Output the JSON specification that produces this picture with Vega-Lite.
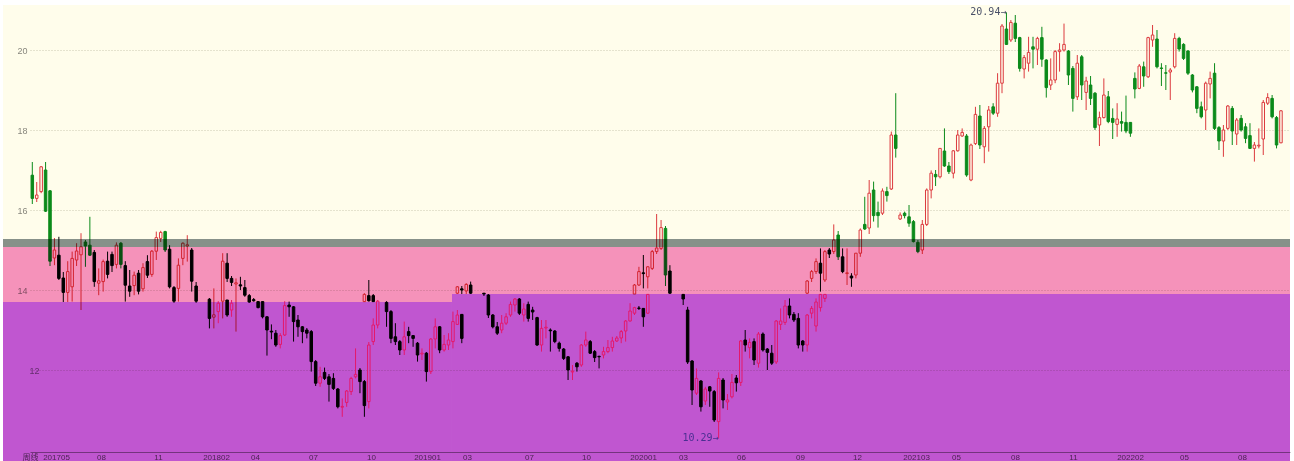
{
"$schema":"https://vega.github.io/schema/vega-lite/v6.json",
"width":1260,"height":456,
"autosize":{"type":"none"},
"padding":{"left":30,"top":5,"right":4,"bottom":0},
"background":"#ffffff",
"config":{"view":{"stroke":null},"scale":{"continuousPadding":0}},
"datasets":{
"bands":[
{"zone":"cream","w":-6.6175,"w2":284.04,"lo":15.275,"hi":21.125},
{"zone":"gray","w":-6.6175,"w2":284.04,"lo":15.075,"hi":15.275},
{"zone":"pink","w":-6.6175,"w2":284.04,"lo":13.9,"hi":15.075},
{"zone":"pink","w":-6.6175,"w2":94.78,"lo":13.7,"hi":13.9},
{"zone":"purple","w":-6.6175,"w2":94.78,"lo":9.725,"hi":13.7},
{"zone":"purple","w":94.78,"w2":284.04,"lo":9.725,"hi":13.9}
],
"notes":[
{"w":220,"v":20.94,"label":"20.94→","zone":"cream"},
{"w":155,"v":10.29,"label":"10.29→","zone":"purple"}
],
"candles":[
{"w":0,"o":16.87,"h":17.2,"l":16.15,"c":16.29},
{"w":1,"o":16.29,"h":16.7,"l":16.2,"c":16.375},
{"w":2,"o":16.46,"h":17.1,"l":16.42,"c":17.08},
{"w":3,"o":17.0,"h":17.2,"l":15.95,"c":15.97},
{"w":4,"o":16.48,"h":16.5,"l":14.6,"c":14.72},
{"w":5,"o":14.8,"h":15.3,"l":14.62,"c":15.0},
{"w":6,"o":14.87,"h":15.33,"l":14.25,"c":14.29},
{"w":7,"o":14.3,"h":14.45,"l":13.7,"c":13.94},
{"w":8,"o":13.94,"h":14.72,"l":13.7,"c":14.46},
{"w":9,"o":14.08,"h":14.96,"l":13.71,"c":14.79},
{"w":10,"o":14.75,"h":15.17,"l":14.6,"c":14.975},
{"w":11,"o":14.88,"h":15.42,"l":13.5,"c":15.08},
{"w":12,"o":15.2,"h":15.25,"l":14.58,"c":15.1},
{"w":13,"o":15.12,"h":15.83,"l":14.85,"c":14.87},
{"w":14,"o":14.94,"h":15.0,"l":14.08,"c":14.21},
{"w":15,"o":14.17,"h":14.54,"l":13.87,"c":14.23},
{"w":16,"o":14.21,"h":14.76,"l":13.96,"c":14.71},
{"w":17,"o":14.72,"h":14.96,"l":14.29,"c":14.39},
{"w":18,"o":14.89,"h":14.96,"l":14.45,"c":14.61},
{"w":19,"o":14.64,"h":15.19,"l":14.54,"c":15.12},
{"w":20,"o":15.17,"h":15.2,"l":14.54,"c":14.64},
{"w":21,"o":14.61,"h":14.72,"l":13.71,"c":14.12},
{"w":22,"o":14.1,"h":14.5,"l":13.83,"c":13.97},
{"w":23,"o":14.11,"h":14.46,"l":13.87,"c":14.37},
{"w":24,"o":14.42,"h":14.5,"l":13.89,"c":13.97},
{"w":25,"o":14.03,"h":14.67,"l":13.96,"c":14.56},
{"w":26,"o":14.71,"h":14.87,"l":14.3,"c":14.37},
{"w":27,"o":14.39,"h":15.0,"l":14.33,"c":14.97},
{"w":28,"o":14.97,"h":15.46,"l":14.75,"c":15.31},
{"w":29,"o":15.29,"h":15.48,"l":15.2,"c":15.44},
{"w":30,"o":15.46,"h":15.48,"l":14.95,"c":15.0},
{"w":31,"o":15.02,"h":15.12,"l":14.04,"c":14.08},
{"w":32,"o":14.06,"h":14.1,"l":13.68,"c":13.72},
{"w":33,"o":14.04,"h":14.79,"l":13.71,"c":14.62},
{"w":34,"o":14.79,"h":15.19,"l":14.62,"c":15.17},
{"w":35,"o":15.1,"h":15.37,"l":14.71,"c":15.13},
{"w":36,"o":15.0,"h":15.05,"l":13.96,"c":14.22},
{"w":37,"o":14.1,"h":14.2,"l":13.68,"c":13.72},
{"w":40,"o":13.77,"h":13.8,"l":13.04,"c":13.29},
{"w":41,"o":13.32,"h":14.04,"l":13.04,"c":13.38},
{"w":42,"o":13.46,"h":13.72,"l":13.17,"c":13.67},
{"w":43,"o":13.72,"h":14.92,"l":13.29,"c":14.72},
{"w":44,"o":14.67,"h":14.92,"l":14.2,"c":14.29},
{"w":44,"o":13.75,"h":13.75,"l":13.33,"c":13.375},
{"w":45,"o":14.29,"h":14.35,"l":14.1,"c":14.19},
{"w":45,"o":13.5,"h":13.75,"l":13.33,"c":13.67},
{"w":46,"o":14.15,"h":14.29,"l":12.96,"c":14.18},
{"w":47,"o":14.13,"h":14.33,"l":14.0,"c":14.1},
{"w":48,"o":14.06,"h":14.25,"l":13.83,"c":13.87},
{"w":49,"o":13.86,"h":13.9,"l":13.68,"c":13.7},
{"w":50,"o":13.76,"h":13.8,"l":13.71,"c":13.73},
{"w":51,"o":13.71,"h":13.72,"l":13.54,"c":13.56},
{"w":52,"o":13.71,"h":13.72,"l":13.29,"c":13.33},
{"w":53,"o":13.33,"h":13.35,"l":12.36,"c":13.0},
{"w":54,"o":12.97,"h":13.14,"l":12.77,"c":12.95},
{"w":55,"o":12.92,"h":13.0,"l":12.58,"c":12.625},
{"w":56,"o":12.64,"h":12.92,"l":12.54,"c":12.86},
{"w":57,"o":12.875,"h":13.72,"l":12.85,"c":13.61},
{"w":58,"o":13.625,"h":13.71,"l":13.33,"c":13.58},
{"w":59,"o":13.58,"h":13.6,"l":12.71,"c":13.21},
{"w":60,"o":13.25,"h":13.375,"l":12.83,"c":13.08},
{"w":61,"o":13.08,"h":13.1,"l":12.67,"c":12.96},
{"w":62,"o":13.0,"h":13.05,"l":12.79,"c":12.92},
{"w":63,"o":12.96,"h":13.0,"l":11.96,"c":12.21},
{"w":64,"o":12.21,"h":12.25,"l":11.6,"c":11.67},
{"w":65,"o":11.67,"h":12.08,"l":11.58,"c":11.83},
{"w":66,"o":11.94,"h":12.06,"l":11.75,"c":11.79},
{"w":67,"o":11.83,"h":11.9,"l":11.21,"c":11.64},
{"w":68,"o":11.79,"h":11.92,"l":11.5,"c":11.54},
{"w":69,"o":11.525,"h":11.55,"l":11.04,"c":11.08},
{"w":70,"o":11.07,"h":11.29,"l":10.83,"c":11.09},
{"w":71,"o":11.19,"h":11.5,"l":11.08,"c":11.475},
{"w":72,"o":11.46,"h":11.83,"l":11.375,"c":11.79},
{"w":73,"o":11.83,"h":12.54,"l":11.79,"c":11.89},
{"w":74,"o":12.0,"h":12.05,"l":11.42,"c":11.71},
{"w":75,"o":11.71,"h":11.75,"l":10.83,"c":11.11},
{"w":75,"o":13.71,"h":13.92,"l":13.7,"c":13.89},
{"w":76,"o":11.21,"h":12.7,"l":11.04,"c":12.625},
{"w":76,"o":13.86,"h":14.25,"l":13.71,"c":13.73},
{"w":77,"o":12.71,"h":13.29,"l":12.625,"c":13.125},
{"w":77,"o":13.86,"h":13.9,"l":13.7,"c":13.71},
{"w":78,"o":13.125,"h":13.75,"l":13.04,"c":13.72},
{"w":80,"o":13.69,"h":13.72,"l":13.08,"c":13.46},
{"w":81,"o":13.46,"h":13.5,"l":12.67,"c":12.79},
{"w":82,"o":12.83,"h":13.17,"l":12.625,"c":12.71},
{"w":83,"o":12.71,"h":12.75,"l":12.375,"c":12.5},
{"w":84,"o":12.5,"h":13.21,"l":12.375,"c":12.83},
{"w":85,"o":12.96,"h":13.08,"l":12.67,"c":12.86},
{"w":86,"o":12.86,"h":12.875,"l":12.58,"c":12.79},
{"w":87,"o":12.67,"h":12.7,"l":12.21,"c":12.375},
{"w":88,"o":12.4,"h":12.54,"l":12.25,"c":12.42},
{"w":89,"o":12.42,"h":12.45,"l":11.71,"c":11.96},
{"w":90,"o":11.96,"h":12.8,"l":11.9,"c":12.775},
{"w":91,"o":12.775,"h":13.29,"l":12.54,"c":13.08},
{"w":92,"o":13.08,"h":13.1,"l":12.42,"c":12.5},
{"w":93,"o":12.5,"h":12.875,"l":12.46,"c":12.64},
{"w":94,"o":12.625,"h":12.92,"l":12.5,"c":12.75},
{"w":95,"o":12.71,"h":13.46,"l":12.54,"c":13.21},
{"w":96,"o":13.14,"h":13.5,"l":13.125,"c":13.375},
{"w":96,"o":13.92,"h":14.1,"l":13.9,"c":14.08},
{"w":97,"o":13.39,"h":13.4,"l":12.67,"c":12.79},
{"w":97,"o":14.03,"h":14.1,"l":13.9,"c":14.0},
{"w":98,"o":13.975,"h":14.17,"l":13.9,"c":14.14},
{"w":99,"o":14.125,"h":14.21,"l":13.9,"c":13.92},
{"w":102,"o":13.92,"h":13.92,"l":13.85,"c":13.9},
{"w":103,"o":13.875,"h":13.9,"l":13.3,"c":13.375},
{"w":104,"o":13.375,"h":13.4,"l":13.04,"c":13.08},
{"w":105,"o":13.08,"h":13.2,"l":12.875,"c":12.92},
{"w":106,"o":13.0,"h":13.375,"l":12.92,"c":13.17},
{"w":107,"o":13.17,"h":13.42,"l":13.125,"c":13.33},
{"w":108,"o":13.375,"h":13.71,"l":13.33,"c":13.64},
{"w":109,"o":13.625,"h":13.8,"l":13.46,"c":13.775},
{"w":110,"o":13.775,"h":13.8,"l":13.375,"c":13.42},
{"w":111,"o":13.375,"h":13.67,"l":13.21,"c":13.525},
{"w":112,"o":13.64,"h":13.71,"l":13.21,"c":13.29},
{"w":113,"o":13.5,"h":13.58,"l":13.25,"c":13.45},
{"w":114,"o":13.31,"h":13.33,"l":12.6,"c":12.625},
{"w":115,"o":12.625,"h":13.25,"l":12.46,"c":13.04},
{"w":116,"o":13.05,"h":13.25,"l":12.79,"c":13.07},
{"w":117,"o":13.0,"h":13.04,"l":12.46,"c":12.98},
{"w":118,"o":12.975,"h":13.0,"l":12.67,"c":12.71},
{"w":119,"o":12.67,"h":12.71,"l":12.46,"c":12.54},
{"w":120,"o":12.525,"h":12.55,"l":12.25,"c":12.29},
{"w":121,"o":12.33,"h":12.35,"l":11.75,"c":12.0},
{"w":122,"o":11.95,"h":12.125,"l":11.75,"c":11.97},
{"w":123,"o":12.17,"h":12.2,"l":11.96,"c":12.08},
{"w":124,"o":12.125,"h":12.65,"l":12.08,"c":12.625},
{"w":125,"o":12.625,"h":12.96,"l":12.58,"c":12.75},
{"w":126,"o":12.71,"h":12.75,"l":12.4,"c":12.42},
{"w":127,"o":12.46,"h":12.5,"l":12.2,"c":12.31},
{"w":128,"o":12.34,"h":12.36,"l":12.04,"c":12.33},
{"w":129,"o":12.375,"h":12.58,"l":12.29,"c":12.46},
{"w":130,"o":12.46,"h":12.75,"l":12.42,"c":12.56},
{"w":131,"o":12.56,"h":12.83,"l":12.46,"c":12.725},
{"w":132,"o":12.725,"h":12.85,"l":12.7,"c":12.8},
{"w":133,"o":12.8,"h":13.0,"l":12.67,"c":12.96},
{"w":134,"o":12.975,"h":13.25,"l":12.71,"c":13.225},
{"w":135,"o":13.225,"h":13.67,"l":13.21,"c":13.475},
{"w":136,"o":13.42,"h":13.58,"l":13.375,"c":13.56},
{"w":136,"o":13.9,"h":14.15,"l":13.9,"c":14.125},
{"w":137,"o":13.55,"h":13.6,"l":13.5,"c":13.54},
{"w":137,"o":14.125,"h":14.58,"l":14.1,"c":14.46},
{"w":138,"o":13.54,"h":13.55,"l":13.08,"c":13.33},
{"w":138,"o":14.43,"h":14.875,"l":14.04,"c":14.41},
{"w":139,"o":13.42,"h":13.9,"l":13.4,"c":13.89},
{"w":139,"o":14.33,"h":14.6,"l":14.04,"c":14.58},
{"w":140,"o":14.54,"h":15.0,"l":14.5,"c":14.96},
{"w":141,"o":14.96,"h":15.9,"l":14.9,"c":15.05},
{"w":142,"o":15.04,"h":15.75,"l":15.0,"c":15.56},
{"w":143,"o":15.54,"h":15.6,"l":14.1,"c":14.375},
{"w":144,"o":14.475,"h":14.62,"l":13.9,"c":13.92},
{"w":147,"o":13.89,"h":13.9,"l":13.625,"c":13.775},
{"w":148,"o":13.5,"h":13.58,"l":12.15,"c":12.2},
{"w":149,"o":12.225,"h":12.25,"l":11.125,"c":11.5},
{"w":150,"o":11.42,"h":12.04,"l":11.375,"c":11.79},
{"w":151,"o":11.725,"h":11.75,"l":10.96,"c":11.08},
{"w":152,"o":11.225,"h":11.58,"l":11.125,"c":11.525},
{"w":153,"o":11.58,"h":11.6,"l":11.08,"c":11.475},
{"w":154,"o":11.46,"h":11.5,"l":10.7,"c":10.75},
{"w":155,"o":10.71,"h":11.94,"l":10.29,"c":11.79},
{"w":156,"o":11.75,"h":11.8,"l":11.04,"c":11.25},
{"w":157,"o":11.2,"h":11.4,"l":11.0,"c":11.25},
{"w":158,"o":11.33,"h":11.9,"l":11.29,"c":11.69},
{"w":159,"o":11.8,"h":11.875,"l":11.46,"c":11.68},
{"w":160,"o":11.69,"h":12.75,"l":11.6,"c":12.725},
{"w":161,"o":12.75,"h":13.0,"l":12.46,"c":12.625},
{"w":162,"o":12.56,"h":12.79,"l":12.29,"c":12.69},
{"w":163,"o":12.71,"h":12.79,"l":12.125,"c":12.25},
{"w":164,"o":12.17,"h":12.95,"l":12.06,"c":12.9},
{"w":165,"o":12.9,"h":12.94,"l":12.46,"c":12.5},
{"w":166,"o":12.525,"h":12.55,"l":12.0,"c":12.44},
{"w":167,"o":12.42,"h":12.625,"l":12.125,"c":12.17},
{"w":168,"o":12.2,"h":13.25,"l":12.15,"c":13.225},
{"w":169,"o":13.14,"h":13.54,"l":13.0,"c":13.225},
{"w":170,"o":13.19,"h":13.75,"l":13.125,"c":13.6},
{"w":171,"o":13.6,"h":13.79,"l":13.29,"c":13.375},
{"w":172,"o":13.39,"h":13.45,"l":13.2,"c":13.25},
{"w":173,"o":13.29,"h":13.42,"l":12.54,"c":12.625},
{"w":174,"o":12.725,"h":12.75,"l":12.46,"c":12.625},
{"w":175,"o":12.625,"h":13.4,"l":12.46,"c":13.375},
{"w":175,"o":13.92,"h":14.25,"l":13.9,"c":14.225},
{"w":176,"o":13.42,"h":13.6,"l":13.29,"c":13.54},
{"w":176,"o":14.29,"h":14.5,"l":14.2,"c":14.46},
{"w":177,"o":13.1,"h":13.79,"l":12.96,"c":13.7},
{"w":177,"o":14.46,"h":14.79,"l":14.4,"c":14.71},
{"w":178,"o":13.56,"h":13.9,"l":13.46,"c":13.89},
{"w":178,"o":14.67,"h":15.04,"l":13.96,"c":14.42},
{"w":179,"o":13.79,"h":13.9,"l":13.7,"c":13.89},
{"w":179,"o":14.25,"h":15.0,"l":14.2,"c":14.96},
{"w":180,"o":15.0,"h":15.05,"l":14.8,"c":14.9},
{"w":181,"o":14.96,"h":15.64,"l":14.9,"c":15.25},
{"w":182,"o":15.375,"h":15.475,"l":14.75,"c":14.83},
{"w":183,"o":14.83,"h":15.04,"l":14.42,"c":14.46},
{"w":184,"o":14.41,"h":15.04,"l":14.125,"c":14.43},
{"w":185,"o":14.35,"h":14.42,"l":14.08,"c":14.3},
{"w":186,"o":14.375,"h":14.92,"l":14.29,"c":14.92},
{"w":187,"o":14.92,"h":15.54,"l":14.83,"c":15.5},
{"w":188,"o":15.64,"h":16.33,"l":15.5,"c":15.525},
{"w":189,"o":15.55,"h":16.75,"l":15.4,"c":16.42},
{"w":190,"o":16.5,"h":16.71,"l":15.71,"c":15.86},
{"w":191,"o":15.94,"h":16.21,"l":15.56,"c":15.86},
{"w":192,"o":15.92,"h":16.54,"l":15.875,"c":16.475},
{"w":193,"o":16.46,"h":16.58,"l":16.21,"c":16.36},
{"w":194,"o":16.525,"h":17.96,"l":16.5,"c":17.875},
{"w":195,"o":17.875,"h":18.92,"l":17.31,"c":17.54},
{"w":196,"o":15.775,"h":15.94,"l":15.75,"c":15.875},
{"w":197,"o":15.92,"h":15.96,"l":15.79,"c":15.86},
{"w":198,"o":15.83,"h":16.125,"l":15.58,"c":15.67},
{"w":199,"o":15.71,"h":15.75,"l":15.19,"c":15.21},
{"w":200,"o":15.19,"h":15.25,"l":14.92,"c":14.96},
{"w":201,"o":15.0,"h":15.75,"l":14.9,"c":15.64},
{"w":202,"o":15.64,"h":16.54,"l":15.6,"c":16.5},
{"w":203,"o":16.5,"h":16.99,"l":16.29,"c":16.92},
{"w":204,"o":16.89,"h":17.0,"l":16.6,"c":16.83},
{"w":205,"o":16.83,"h":17.55,"l":16.79,"c":17.54},
{"w":206,"o":17.475,"h":18.04,"l":17.08,"c":17.1},
{"w":207,"o":17.1,"h":17.2,"l":16.9,"c":16.96},
{"w":208,"o":16.92,"h":17.5,"l":16.79,"c":17.48},
{"w":209,"o":17.48,"h":18.0,"l":17.46,"c":17.875},
{"w":210,"o":17.85,"h":18.04,"l":17.83,"c":17.94},
{"w":211,"o":17.85,"h":17.9,"l":16.83,"c":16.875},
{"w":212,"o":16.75,"h":17.66,"l":16.72,"c":17.625},
{"w":213,"o":17.66,"h":18.58,"l":17.625,"c":18.39},
{"w":214,"o":18.35,"h":18.625,"l":17.525,"c":17.625},
{"w":215,"o":17.58,"h":18.1,"l":17.17,"c":18.04},
{"w":216,"o":18.08,"h":18.6,"l":17.46,"c":18.5},
{"w":217,"o":18.58,"h":18.67,"l":18.375,"c":18.42},
{"w":218,"o":18.42,"h":19.42,"l":18.33,"c":19.17},
{"w":219,"o":19.17,"h":20.65,"l":18.92,"c":20.6},
{"w":220,"o":20.525,"h":20.94,"l":20.125,"c":20.14},
{"w":221,"o":20.25,"h":20.75,"l":20.2,"c":20.69},
{"w":222,"o":20.67,"h":20.875,"l":20.2,"c":20.29},
{"w":223,"o":20.31,"h":20.33,"l":19.46,"c":19.54},
{"w":224,"o":19.525,"h":19.875,"l":19.29,"c":19.81},
{"w":225,"o":19.67,"h":20.33,"l":19.46,"c":19.94},
{"w":226,"o":20.08,"h":20.33,"l":19.54,"c":20.02},
{"w":227,"o":20.02,"h":20.33,"l":19.625,"c":20.29},
{"w":228,"o":20.31,"h":20.58,"l":19.58,"c":19.77},
{"w":229,"o":19.75,"h":19.77,"l":18.81,"c":19.06},
{"w":230,"o":19.125,"h":19.79,"l":19.0,"c":19.25},
{"w":231,"o":19.25,"h":20.0,"l":19.17,"c":19.96},
{"w":232,"o":19.96,"h":20.17,"l":19.46,"c":20.0},
{"w":233,"o":20.0,"h":20.66,"l":19.96,"c":20.14},
{"w":234,"o":19.975,"h":20.0,"l":19.125,"c":19.375},
{"w":235,"o":19.54,"h":19.6,"l":18.46,"c":18.79},
{"w":236,"o":18.83,"h":19.875,"l":18.75,"c":19.67},
{"w":237,"o":19.83,"h":19.875,"l":18.75,"c":19.125},
{"w":238,"o":18.94,"h":19.33,"l":18.5,"c":19.225},
{"w":239,"o":19.125,"h":19.35,"l":18.625,"c":18.79},
{"w":240,"o":18.92,"h":18.95,"l":18.0,"c":18.06},
{"w":241,"o":18.125,"h":18.46,"l":17.6,"c":18.31},
{"w":242,"o":18.31,"h":19.29,"l":18.29,"c":18.875},
{"w":243,"o":18.83,"h":18.975,"l":18.17,"c":18.21},
{"w":244,"o":18.29,"h":18.54,"l":17.775,"c":18.19},
{"w":245,"o":18.14,"h":18.67,"l":17.83,"c":18.275},
{"w":246,"o":18.21,"h":18.46,"l":17.96,"c":18.17},
{"w":247,"o":18.19,"h":18.86,"l":17.92,"c":17.975},
{"w":248,"o":18.19,"h":18.2,"l":17.83,"c":17.92},
{"w":249,"o":19.29,"h":19.44,"l":18.79,"c":19.025},
{"w":250,"o":19.04,"h":19.65,"l":19.02,"c":19.6},
{"w":251,"o":19.58,"h":19.71,"l":19.08,"c":19.35},
{"w":252,"o":19.33,"h":20.33,"l":19.3,"c":20.31},
{"w":253,"o":20.25,"h":20.625,"l":20.08,"c":20.375},
{"w":254,"o":20.275,"h":20.5,"l":19.54,"c":19.58},
{"w":255,"o":19.55,"h":19.67,"l":19.1,"c":19.54},
{"w":256,"o":19.43,"h":19.625,"l":19.0,"c":19.42},
{"w":257,"o":19.45,"h":19.55,"l":18.75,"c":19.5},
{"w":258,"o":19.58,"h":20.42,"l":19.54,"c":20.29},
{"w":259,"o":20.29,"h":20.33,"l":19.96,"c":20.025},
{"w":260,"o":20.14,"h":20.17,"l":19.75,"c":19.79},
{"w":261,"o":19.975,"h":20.0,"l":19.375,"c":19.42},
{"w":262,"o":19.375,"h":19.4,"l":18.94,"c":19.0},
{"w":263,"o":19.08,"h":19.1,"l":18.42,"c":18.54},
{"w":264,"o":18.58,"h":18.71,"l":18.29,"c":18.33},
{"w":265,"o":18.5,"h":19.21,"l":18.0,"c":19.17},
{"w":266,"o":19.15,"h":19.46,"l":18.79,"c":19.29},
{"w":267,"o":19.42,"h":19.67,"l":18.0,"c":18.04},
{"w":268,"o":18.06,"h":18.1,"l":17.5,"c":17.725},
{"w":269,"o":17.725,"h":18.125,"l":17.33,"c":18.0},
{"w":270,"o":18.04,"h":18.625,"l":18.0,"c":18.6},
{"w":271,"o":18.54,"h":18.6,"l":17.625,"c":17.975},
{"w":272,"o":17.9,"h":18.3,"l":17.625,"c":18.25},
{"w":273,"o":18.29,"h":18.375,"l":17.96,"c":18.0},
{"w":274,"o":18.08,"h":18.17,"l":17.67,"c":17.79},
{"w":275,"o":17.86,"h":18.17,"l":17.525,"c":17.54},
{"w":276,"o":17.54,"h":17.7,"l":17.21,"c":17.625},
{"w":277,"o":17.6,"h":18.04,"l":17.54,"c":17.62},
{"w":278,"o":17.775,"h":18.75,"l":17.375,"c":18.69},
{"w":279,"o":18.67,"h":18.92,"l":18.625,"c":18.81},
{"w":280,"o":18.79,"h":18.875,"l":18.29,"c":18.33},
{"w":281,"o":18.31,"h":18.35,"l":17.54,"c":17.625},
{"w":282,"o":17.68,"h":18.5,"l":17.67,"c":18.48}
]
},
"layer":[
{
"data":{"name":"bands"},
"transform":[{"filter":"datum.zone == 'cream'"}],
"mark":{"type":"rect","blend":"multiply","opacity":1},
"encoding":{
"x":{"field":"w","type":"quantitative","scale":{"domain":[-0.52,284.04],"nice":false,"zero":false,"padding":0},
"axis":{"values":[5.35,15.51,28.39,41.49,50.29,63.39,76.49,89.14,98.17,112.17,125.05,137.92,146.95,160.05,173.37,186.25,199.57,208.6,221.93,235.03,247.9,260.1,273.2],
"labelExpr":"['201705','08','11','201802','04','07','10','201901','03','07','10','202001','03','06','09','12','202103','05','08','11','202202','05','08'][indexof([5.35,15.51,28.39,41.49,50.29,63.39,76.49,89.14,98.17,112.17,125.05,137.92,146.95,160.05,173.37,186.25,199.57,208.6,221.93,235.03,247.9,260.1,273.2], datum.value)]",
"offset":-9,"ticks":false,"grid":false,"domainColor":"#9a9a9a","domainWidth":1,
"labelColor":"#686868","labelFont":"Liberation Sans","labelFontSize":8,"labelPadding":1,"labelBaseline":"top","labelOverlap":false,"labelFlush":false,"labelBound":false,
"title":"周线","titleFont":"Noto Sans CJK SC","titleFontSize":8,"titleFontWeight":"normal","titleColor":"#686868","titleX":-8,"titleY":7,"titleAlign":"left","titleBaseline":"alphabetic"}},
"x2":{"field":"w2"},
"y":{"field":"lo","type":"quantitative","scale":{"domain":[9.725,21.125],"nice":false,"zero":false,"padding":0},
"axis":{"values":[12,14,16,18,20],"ticks":false,"domain":false,"labelColor":"#888888","labelFont":"Liberation Sans","labelFontSize":9,
"labelPadding":{"condition":{"test":"datum.value == 12","value":-9},"value":3},
"gridColor":"#cbcbc0","gridDash":[1,2],"title":null}},
"y2":{"field":"hi"},
"fill":{"field":"zone","type":"nominal","scale":{"domain":["cream","gray","pink","purple"],"range":["#fffdeb","#879189","#f592ba","#c056d0"]},"legend":null}
}
},
{
"mark":{"type":"rule","strokeWidth":1,"color":"#b8b4a2"},
"encoding":{
"x":{"datum":-0.407,"type":"quantitative"},
"y":{"datum":21.125,"type":"quantitative"},
"y2":{"datum":13.7}
}
},
{
"data":{"name":"candles"},
"transform":[{"filter":"datum.h > (datum.w < 94.8 ? 13.76 : 13.92)"}],
"layer":[
{"transform":[{"filter":"datum.c < datum.o"}],
"mark":{"type":"rule","strokeWidth":1},
"encoding":{"x":{"field":"w","type":"quantitative"},
"y":{"field":"h","type":"quantitative"},
"y2":{"field":"l"},
"stroke":{"condition":{"test":"datum.o > 15.1","value":"#0b8a1a"},"value":"#000000"}}},
{"transform":[{"filter":"datum.c < datum.o"}],
"mark":{"type":"bar","size":2.5,"strokeWidth":1},
"encoding":{"x":{"field":"w","type":"quantitative"},
"y":{"field":"o","type":"quantitative"},
"y2":{"field":"c"},
"fill":{"condition":{"test":"datum.o > 15.1","value":"#0b8a1a"},"value":"#000000"},
"stroke":{"condition":{"test":"datum.o > 15.1","value":"#0b8a1a"},"value":"#000000"}}},
{"transform":[{"filter":"datum.c >= datum.o"}],
"mark":{"type":"rule","strokeWidth":1},
"encoding":{"x":{"field":"w","type":"quantitative"},
"y":{"field":"h","type":"quantitative"},
"y2":{"field":"c"},
"stroke":{"value":"#dc3a3e"}}},
{"transform":[{"filter":"datum.c >= datum.o"}],
"mark":{"type":"rule","strokeWidth":1},
"encoding":{"x":{"field":"w","type":"quantitative"},
"y":{"field":"o","type":"quantitative"},
"y2":{"field":"l"},
"stroke":{"value":"#dc3a3e"}}},
{"transform":[{"filter":"datum.c >= datum.o"}],
"mark":{"type":"bar","size":2.5,"filled":false,"strokeWidth":1},
"encoding":{"x":{"field":"w","type":"quantitative"},
"y":{"field":"o","type":"quantitative"},
"y2":{"field":"c"},
"stroke":{"value":"#dc3a3e"}}}
]
},
{
"data":{"name":"bands"},
"transform":[{"filter":"datum.zone != 'cream'"}],
"mark":{"type":"rect","blend":"multiply","opacity":1},
"encoding":{
"x":{"field":"w","type":"quantitative"},
"x2":{"field":"w2"},
"y":{"field":"lo","type":"quantitative"},
"y2":{"field":"hi"},
"fill":{"field":"zone","type":"nominal","legend":null}
}
},
{
"data":{"name":"candles"},
"transform":[{"filter":"datum.h <= (datum.w < 94.8 ? 13.76 : 13.92)"}],
"layer":[
{"transform":[{"filter":"datum.c < datum.o"}],
"mark":{"type":"rule","strokeWidth":1},
"encoding":{"x":{"field":"w","type":"quantitative"},
"y":{"field":"h","type":"quantitative"},
"y2":{"field":"l"},
"stroke":{"value":"#000000"}}},
{"transform":[{"filter":"datum.c < datum.o"}],
"mark":{"type":"bar","size":2.5,"strokeWidth":1},
"encoding":{"x":{"field":"w","type":"quantitative"},
"y":{"field":"o","type":"quantitative"},
"y2":{"field":"c"},
"fill":{"value":"#000000"},
"stroke":{"value":"#000000"}}},
{"transform":[{"filter":"datum.c >= datum.o"}],
"mark":{"type":"rule","strokeWidth":1},
"encoding":{"x":{"field":"w","type":"quantitative"},
"y":{"field":"h","type":"quantitative"},
"y2":{"field":"c"},
"stroke":{"value":"#e4186a"}}},
{"transform":[{"filter":"datum.c >= datum.o"}],
"mark":{"type":"rule","strokeWidth":1},
"encoding":{"x":{"field":"w","type":"quantitative"},
"y":{"field":"o","type":"quantitative"},
"y2":{"field":"l"},
"stroke":{"value":"#e4186a"}}},
{"transform":[{"filter":"datum.c >= datum.o"}],
"mark":{"type":"bar","size":2.5,"filled":false,"strokeWidth":1},
"encoding":{"x":{"field":"w","type":"quantitative"},
"y":{"field":"o","type":"quantitative"},
"y2":{"field":"c"},
"stroke":{"value":"#e4186a"}}}
]
},
{
"data":{"name":"notes"},
"mark":{"type":"text","align":"right","baseline":"middle","font":"DejaVu Sans Mono","fontSize":10},
"encoding":{
"x":{"field":"w","type":"quantitative"},
"y":{"field":"v","type":"quantitative"},
"text":{"field":"label"},
"fill":{"condition":{"test":"datum.zone == 'purple'","value":"#4a2f92"},"value":"#4a5068"}
}
},
{
"mark":{"type":"rule","strokeWidth":1,"color":"#7a3898"},
"encoding":{
"x":{"datum":2.19,"type":"quantitative"},
"y":{"datum":13.7,"type":"quantitative"},
"y2":{"datum":9.8}
}
}
]
}
